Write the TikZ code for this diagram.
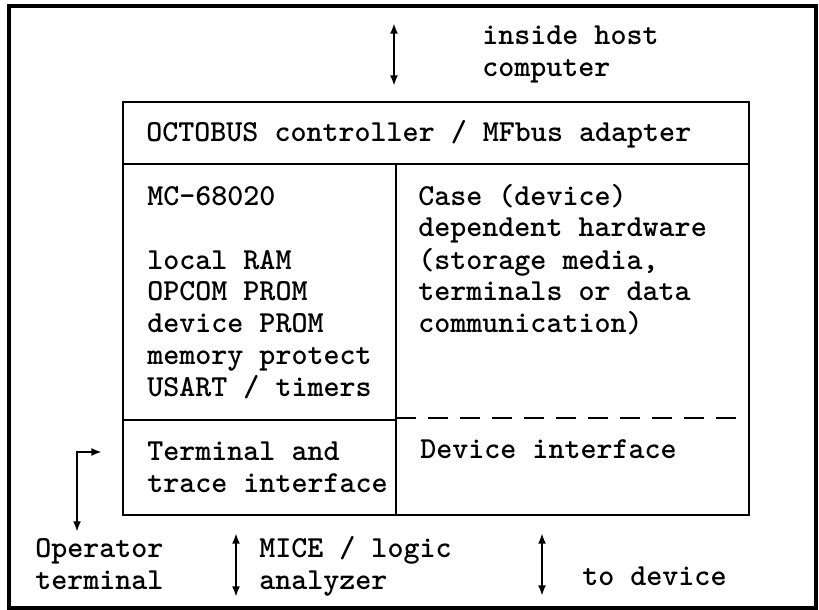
\documentclass[tikz,border=0pt]{standalone}
\usetikzlibrary{arrows.meta}
% stacked lines whose first baseline is the box baseline
\newcommand\txtlines[1]{\begin{tabular}[t]{@{}l@{}}#1\end{tabular}}
\begin{document}
\begin{tikzpicture}[x=0.75pt,y=-0.75pt,
  txt/.style={font=\ttfamily\bfseries\fontsize{22.9}{24}\selectfont, anchor=base west, inner sep=0pt},
  frame/.style={line width=2.3pt},
  part/.style={line width=2.1pt},
  flow/.style={line width=1.6pt, {Latex[length=8pt,width=6pt]}-{Latex[length=8pt,width=6pt]}},
  sep/.style={line width=2.1pt, dash pattern=on 15pt off 9pt},
]
\useasboundingbox (0,0) rectangle (819,610);

% outer frame
\draw[frame] (9,6) rectangle (816,608);

% board outline and its partitions
\coordinate (bTL) at (123,102);
\coordinate (bBR) at (749,515);
\draw[part] (bTL) rectangle (bBR);
\coordinate (hL) at (123,164);
\coordinate (hR) at (749,164);
\draw[part] (hL) -- (hR);
\coordinate (dT) at (396,164);
\coordinate (dB) at (396,515);
\draw[part] (dT) -- (dB);
\coordinate (lL) at (123,420);
\coordinate (lR) at (396,420);
\draw[part] (lL) -- (lR);
\coordinate (rL) at (396,418);
\coordinate (rR) at (749,418);
\draw[sep] (rL) -- (rR);

% texts
\node[txt] (host) at (482,45) {\txtlines{inside host\\computer}};
\node[txt] (bus) at (146,142) {OCTOBUS controller / MFbus adapter};
\node[txt] (cpu) at (147,205) {\txtlines{MC-68020\\[24pt]local RAM\\OPCOM PROM\\device PROM\\memory protect\\USART / timers}};
\node[txt] (case) at (418,205) {\txtlines{Case (device)\\dependent hardware\\(storage media,\\terminals or data\\communication)}};
\node[txt] (term) at (147,460) {\txtlines{Terminal and\\trace interface}};
\node[txt] (devif) at (420,458) {Device interface};
\node[txt] (oper) at (35,557) {\txtlines{Operator\\terminal}};
\node[txt] (mice) at (259,557) {\txtlines{MICE / logic\\analyzer}};
\node[txt] (todev) at (582,585) {to device};

% connections
\coordinate (hostA) at (394,23);
\coordinate (hostB) at (394,86);
\draw[flow] (hostA) -- (hostB);

\coordinate (opA) at (77,532);
\coordinate (opB) at (102,452);
\draw[flow] (opA) |- (opB);

\coordinate (miceA) at (236,533);
\coordinate (miceB) at (236,597);
\draw[flow] (miceA) -- (miceB);

\coordinate (devA) at (542,533);
\coordinate (devB) at (542,596);
\draw[flow] (devA) -- (devB);
\end{tikzpicture}
\end{document}
